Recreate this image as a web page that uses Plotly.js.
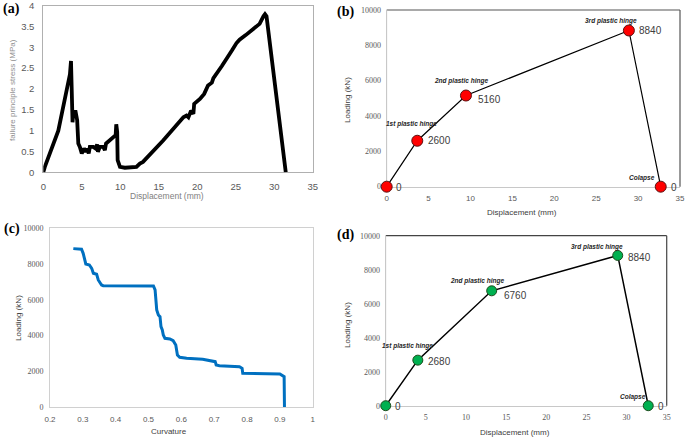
<!DOCTYPE html>
<html>
<head>
<meta charset="utf-8">
<script src="https://cdn.plot.ly/plotly-3.0.1.min.js"></script>
<style>html,body{margin:0;padding:0;background:#fff;}#chart{width:685px;height:437px;}</style>
</head>
<body>
<div id="chart"></div>
<script>
// ---- Panel (a): failure principle stress vs displacement ----
const dispA = [0, 0.2, 1.95, 2.4, 2.8, 3.25, 3.46, 3.6, 3.8, 3.9, 4.2, 4.4, 4.55, 4.75, 5.0, 5.3, 5.55, 5.7, 5.9, 6.05, 6.5, 6.8, 7.0, 7.1, 7.35, 7.8, 8.0, 8.15, 8.65, 9.2, 9.4, 9.48, 9.6, 9.66, 9.96, 10.6, 12.1, 12.55, 12.95, 15.6, 18.2, 18.6, 18.85, 19.2, 19.5, 19.6, 20.35, 20.9, 21.4, 21.9, 22.1, 23.2, 23.8, 24.5, 25.1, 25.5, 26.3, 27.3, 28.1, 28.6, 28.8, 29.0, 31.5];
const stressA = [0, 0.13, 1.0, 1.4, 1.72, 2.11, 2.35, 2.67, 1.2, 1.45, 1.45, 1.25, 0.69, 0.61, 0.45, 0.57, 0.49, 0.57, 0.45, 0.61, 0.61, 0.57, 0.67, 0.49, 0.61, 0.61, 0.53, 0.69, 0.77, 0.85, 0.89, 1.15, 0.97, 0.29, 0.13, 0.11, 0.13, 0.21, 0.25, 0.77, 1.32, 1.36, 1.32, 1.48, 1.40, 1.64, 1.76, 1.88, 2.08, 2.15, 2.26, 2.55, 2.71, 2.92, 3.1, 3.18, 3.29, 3.45, 3.56, 3.74, 3.79, 3.74, 0];

// ---- Panel (b): loading vs displacement (red) ----
const dispB = [0, 3.65, 9.46, 28.9, 32.7];
const loadB = [0, 2600, 5160, 8840, 0];

// ---- Panel (c): loading vs curvature ----
const curvC = [0.271, 0.296, 0.301, 0.309, 0.32, 0.327, 0.332, 0.342, 0.347, 0.357, 0.362, 0.515, 0.52, 0.525, 0.53, 0.535, 0.538, 0.542, 0.545, 0.55, 0.565, 0.575, 0.583, 0.588, 0.595, 0.616, 0.665, 0.695, 0.703, 0.706, 0.716, 0.777, 0.785, 0.787, 0.858, 0.9, 0.913, 0.914];
const loadC = [8862, 8825, 8600, 8004, 7948, 7761, 7481, 7425, 7108, 6828, 6791, 6772, 6550, 5430, 5150, 5056, 4496, 4310, 4030, 3843, 3806, 3713, 3470, 2910, 2780, 2724, 2668, 2593, 2537, 2350, 2313, 2257, 2164, 1884, 1884, 1847, 1698, 0];

// ---- Panel (d): loading vs displacement (green) ----
const dispD = [0, 4.0, 13.2, 28.9, 32.7];
const loadD = [0, 2680, 6760, 8840, 0];

// ---- Point labels ----
const hingeLabels = ["", "1st plastic hinge", "2nd plastic hinge", "3rd plastic hinge", "Colapse"];

// ---- Tick values ----
const dispTicks = [0, 5, 10, 15, 20, 25, 30, 35];
const stressTicks = [0, 0.5, 1, 1.5, 2, 2.5, 3, 3.5, 4];
const loadTicks = [0, 2000, 4000, 6000, 8000, 10000];
const curvTicks = [0.2, 0.3, 0.4, 0.5, 0.6, 0.7, 0.8, 0.9, 1];

const sans = "Liberation Sans, Arial, sans-serif";
const serif = "Liberation Serif, Times New Roman, serif";

const traces = [
  {x: dispA, y: stressA, xaxis: 'x', yaxis: 'y', mode: 'lines', line: {color: '#000', width: 3.8}, cliponaxis: false, hoverinfo: 'skip'},
  {x: dispB, y: loadB, xaxis: 'x2', yaxis: 'y2', mode: 'lines+markers', line: {color: '#000', width: 1.2},
   marker: {color: '#ff0000', size: 11, line: {color: '#5a1010', width: 1}}, cliponaxis: false, hoverinfo: 'skip'},
  {x: curvC, y: loadC, xaxis: 'x3', yaxis: 'y3', mode: 'lines', line: {color: '#0070C0', width: 3}, cliponaxis: false, hoverinfo: 'skip'},
  {x: dispD, y: loadD, xaxis: 'x4', yaxis: 'y4', mode: 'lines+markers', line: {color: '#000', width: 1.5},
   marker: {color: '#00B050', size: 10, line: {color: '#1d4d1d', width: 1}}, cliponaxis: false, hoverinfo: 'skip'}
];

function axis(dom, range, tickvals, font, lineColor, extra) {
  return Object.assign({
    domain: dom, range: range, tickvals: tickvals, tickmode: 'array',
    showgrid: false, zeroline: false, showline: true, linecolor: lineColor, linewidth: 1,
    ticks: '', tickfont: font, fixedrange: true, layer: 'below traces', ticklabeloverflow: 'allow'
  }, extra || {});
}

const tickGray = '#595959';
const layout = {
  width: 685, height: 437, autosize: false,
  margin: {l: 0, r: 0, t: 0, b: 0},
  paper_bgcolor: '#fff', plot_bgcolor: '#fff', showlegend: false,
  xaxis: axis([0.0632, 0.4565], [0, 35], dispTicks, {family: sans, size: 9.5, color: tickGray}, '#b0b0b0', {mirror: true, anchor: 'y', ticklabelstandoff: 5}),
  yaxis: axis([0.6057, 0.9874], [0, 4], stressTicks, {family: sans, size: 9.5, color: tickGray}, '#b0b0b0', {mirror: true, anchor: 'x', ticklabelstandoff: 6}),
  xaxis2: axis([0.5645, 0.9927], [0, 35], dispTicks, {family: sans, size: 8, color: tickGray}, '#c8c8c8', {anchor: 'y2', ticklabelstandoff: 4}),
  yaxis2: axis([0.5728, 0.9771], [0, 10000], loadTicks, {family: serif, size: 8, color: tickGray}, '#c8c8c8', {anchor: 'x2', tickformat: 'd', ticklabelstandoff: 3}),
  xaxis3: axis([0.0730, 0.4565], [0.2, 1], curvTicks, {family: sans, size: 8, color: tickGray}, '#d0d0d0', {mirror: true, anchor: 'y3', ticklabelstandoff: 4}),
  yaxis3: axis([0.0686, 0.4776], [0, 10000], loadTicks, {family: serif, size: 8, color: tickGray}, '#d0d0d0', {mirror: true, anchor: 'x3', tickformat: 'd', ticklabelstandoff: 4}),
  xaxis4: axis([0.5631, 0.9733], [0, 35], dispTicks, {family: serif, size: 8, color: tickGray}, '#c8c8c8', {anchor: 'y4', ticklabelstandoff: 4}),
  yaxis4: axis([0.0716, 0.4606], [0, 10000], loadTicks, {family: serif, size: 8, color: tickGray}, '#c8c8c8', {anchor: 'x4', tickformat: 'd', ticklabelstandoff: 3}),
  shapes: [
    // darker top and right borders for (b) and (d)
    {type: 'line', layer: 'below', xref: 'x2 domain', yref: 'y2 domain', x0: 0, x1: 1, y0: 1, y1: 1, line: {color: '#555', width: 1.2}},
    {type: 'line', layer: 'below', xref: 'x2 domain', yref: 'y2 domain', x0: 1, x1: 1, y0: 0, y1: 1, line: {color: '#555', width: 1.2}},
    {type: 'line', layer: 'below', xref: 'x4 domain', yref: 'y4 domain', x0: 0, x1: 1, y0: 1, y1: 1, line: {color: '#444', width: 1.2}},
    {type: 'line', layer: 'below', xref: 'x4 domain', yref: 'y4 domain', x0: 1, x1: 1, y0: 0, y1: 1, line: {color: '#444', width: 1.2}},
    {type: 'line', layer: 'below', xref: 'x2 domain', yref: 'y2 domain', x0: 0, x1: 0, y0: 0, y1: 1, line: {color: '#d8d8d8', width: 1}},
    {type: 'line', layer: 'below', xref: 'x4 domain', yref: 'y4 domain', x0: 0, x1: 0, y0: 0, y1: 1, line: {color: '#d8d8d8', width: 1}}
  ],
  annotations: []
};

const ann = layout.annotations;
function paperText(text, px, py, size, color, family, angle, extra) {
  ann.push(Object.assign({text: text, xref: 'paper', yref: 'paper', x: px / 685, y: 1 - py / 437,
    xanchor: 'center', yanchor: 'middle', showarrow: false, textangle: angle || 0,
    font: {family: family, size: size, color: color}}, extra || {}));
}
// panel letters
paperText('<b>(a)</b>', 11, 9, 14, '#000', serif);
paperText('<b>(b)</b>', 345, 12, 14, '#000', serif);
paperText('<b>(c)</b>', 12, 229, 14, '#000', serif);
paperText('<b>(d)</b>', 345, 235, 14, '#000', serif);
// axis titles
paperText('Displacement (mm)', 167, 196, 8.5, '#808080', sans);
paperText('failure principle stress (MPa)', 12, 90, 8, '#909090', sans, -90);
paperText('Displacement (mm)', 522, 212, 8, '#404040', sans);
paperText('Loading (kN)', 347, 100, 8, '#404040', sans, -90);
paperText('Curvature', 169, 431, 8, '#404040', sans);
paperText('Loading (kN)', 18, 318, 8, '#404040', sans, -90);
paperText('Displacement (mm)', 515, 432, 8, '#404040', sans);
paperText('Loading (kN)', 347, 325, 8, '#404040', sans, -90);

// point labels for (b) and (d), positioned relative to data points
function pointLabels(xs, ys, xa, ya, valShift, hingeShift) {
  for (let i = 0; i < xs.length; i++) {
    ann.push({text: String(ys[i]), x: xs[i], y: ys[i], xref: xa, yref: ya, showarrow: false,
      xanchor: 'left', yanchor: 'middle', xshift: valShift[i][0], yshift: valShift[i][1],
      font: {family: sans, size: 10, color: '#404040'}});
    if (hingeLabels[i]) {
      ann.push({text: '<b><i>' + hingeLabels[i] + '</i></b>', x: xs[i], y: ys[i], xref: xa, yref: ya, showarrow: false,
        xanchor: 'center', yanchor: 'middle', xshift: hingeShift[i][0], yshift: hingeShift[i][1],
        font: {family: sans, size: 6.5, color: '#262626'}});
    }
  }
}
pointLabels(dispB, loadB, 'x2', 'y2',
  [[7, -1], [9, 0], [10, -4], [8, 0], [8, -1]],
  [[0, 0], [-6, 17], [-5, 14.5], [-18, 9], [-19, 9]]);
pointLabels(dispD, loadD, 'x4', 'y4',
  [[7, -1], [8, -1], [10, -5], [8, -2], [8, -1]],
  [[0, 0], [-10, 14.5], [-15, 10], [-21, 8], [-15, 9]]);

Plotly.newPlot('chart', traces, layout, {staticPlot: true, displayModeBar: false});
</script>
</body>
</html>
